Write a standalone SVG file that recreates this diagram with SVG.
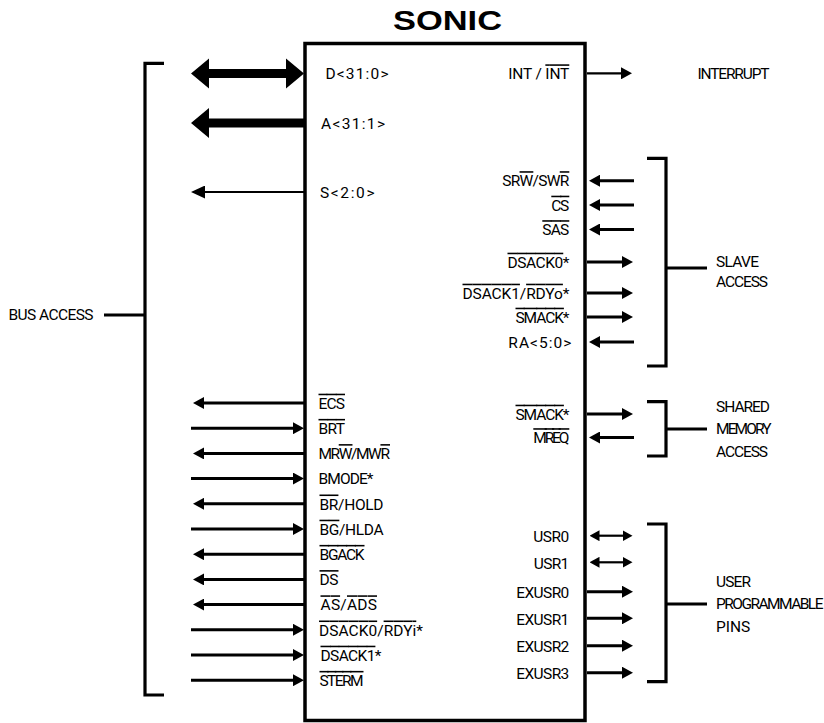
<svg xmlns="http://www.w3.org/2000/svg" width="824" height="723" viewBox="0 0 824 723">
<style>
text{font-family:Roboto,"Liberation Sans",sans-serif;font-size:15.5px;fill:#000}
.r{text-anchor:end}
.ttl{font-family:"Liberation Sans",Arial,sans-serif;font-weight:bold;font-size:28px}
.ov{text-decoration:overline;text-decoration-thickness:1.4px}
.w{stroke:#000;stroke-width:3;fill:none}
.n{stroke:#000;stroke-width:2.2;fill:none}
.br{stroke:#000;stroke-width:3.2;fill:none}
.ah{marker-end:url(#ah)}
.ah2{marker-start:url(#as);marker-end:url(#as)}
</style>
<defs>
<marker id="ah" viewBox="0 0 11 12" refX="0.5" refY="6" markerWidth="11" markerHeight="12" markerUnits="userSpaceOnUse" orient="auto"><path d="M0,0 L11,6 L0,12 Z" fill="#000"/></marker>
<marker id="as" viewBox="0 0 10 11" refX="0.5" refY="5.5" markerWidth="10" markerHeight="11" markerUnits="userSpaceOnUse" orient="auto-start-reverse"><path d="M0,0 L10,5.5 L0,11 Z" fill="#000"/></marker>
<marker id="am" viewBox="0 0 14 13" refX="0.5" refY="6.5" markerWidth="14" markerHeight="13" markerUnits="userSpaceOnUse" orient="auto"><path d="M0,0 L14,6.5 L0,13 Z" fill="#000"/></marker>
</defs>
<rect width="824" height="723" fill="#fff"/>

<g id="sonic">
<text class="ttl" x="393" y="30" textLength="109" lengthAdjust="spacingAndGlyphs">SONIC</text>
<rect x="305" y="43.5" width="280" height="677" fill="none" stroke="#000" stroke-width="3.5"/>
<text x="325.5" y="78.5" textLength="63">D&lt;31:0&gt;</text>
<text x="321" y="128.5" textLength="64">A&lt;31:1&gt;</text>
<text x="320" y="197.5" textLength="54.5">S&lt;2:0&gt;</text>
<text x="318.5" y="408.7" textLength="26.5"><tspan class="ov">ECS</tspan></text>
<text x="318.5" y="433.9" textLength="26.5"><tspan class="ov">BRT</tspan></text>
<text x="318.5" y="459.1" textLength="71.5">MR<tspan class="ov">W</tspan>/MW<tspan class="ov">R</tspan></text>
<text x="318.5" y="484.3" textLength="55">BMODE*</text>
<text x="319.5" y="509.5" textLength="64"><tspan class="ov">BR</tspan>/HOLD</text>
<text x="319.5" y="534.7" textLength="64"><tspan class="ov">BG</tspan>/HLDA</text>
<text x="319.5" y="559.9" textLength="45"><tspan class="ov">BGACK</tspan></text>
<text x="319.5" y="585.1" textLength="19"><tspan class="ov">DS</tspan></text>
<text x="320.5" y="610.3" textLength="56.5"><tspan class="ov">AS</tspan>/<tspan class="ov">ADS</tspan></text>
<text x="319" y="635.5" textLength="104"><tspan class="ov">DSACK0</tspan>/<tspan class="ov">RDYi</tspan>*</text>
<text x="320.5" y="660.7" textLength="61"><tspan class="ov">DSACK1</tspan>*</text>
<text x="319.5" y="685.9" textLength="44"><tspan class="ov">STERM</tspan></text>

<text class="r" x="569.3" y="79.3" textLength="61">INT / <tspan class="ov">INT</tspan></text>
<text class="r" x="569.3" y="186.2" textLength="67">SR<tspan class="ov">W</tspan>/SW<tspan class="ov">R</tspan></text>
<text class="r" x="569.3" y="210.7" textLength="18"><tspan class="ov">CS</tspan></text>
<text class="r" x="569.3" y="235.2" textLength="27"><tspan class="ov">SAS</tspan></text>
<text class="r" x="569.5" y="267.7" textLength="62"><tspan class="ov">DSACK0</tspan>*</text>
<text class="r" x="569.5" y="298.7" textLength="107"><tspan class="ov">DSACK1</tspan>/<tspan class="ov">RDYo</tspan>*</text>
<text class="r" x="569.5" y="322.7" textLength="54"><tspan class="ov">SMACK</tspan>*</text>
<text class="r" x="571.3" y="347.7" textLength="63">RA&lt;5:0&gt;</text>
<text class="r" x="569.5" y="419.7" textLength="54"><tspan class="ov">SMACK</tspan>*</text>
<text class="r" x="569.3" y="443.2" textLength="36"><tspan class="ov">MREQ</tspan></text>
<text class="r" x="569.3" y="542.2" textLength="36">USR0</text>
<text class="r" x="569.3" y="568.6" textLength="35.5">USR1</text>
<text class="r" x="569.3" y="598" textLength="53">EXUSR0</text>
<text class="r" x="569.3" y="624.6" textLength="53">EXUSR1</text>
<text class="r" x="569.3" y="652" textLength="53">EXUSR2</text>
<text class="r" x="569.3" y="679" textLength="53">EXUSR3</text>
</g>

<g id="bus-access">
<path class="br" d="M164,63.3 H145 V695 H164 M104,315 H145"/>
<text x="8.5" y="320" textLength="85">BUS ACCESS</text>
</g>
<g id="interrupt">
<text x="697.5" y="79.3" textLength="72">INTERRUPT</text>
</g>
<g id="slave-access">
<path class="br" d="M647,158.3 H666 V366 H647 M666,268 H707"/>
<text x="716" y="267.3" textLength="43">SLAVE</text>
<text x="716" y="287.3" textLength="52">ACCESS</text>
</g>
<g id="shared-memory-access">
<path class="br" d="M647,401.7 H666 V456 H647 M666,429 H707"/>
<text x="716" y="411.7" textLength="54">SHARED</text>
<text x="716" y="434" textLength="55.5">MEMORY</text>
<text x="716" y="456.7" textLength="52">ACCESS</text>
</g>
<g id="user-programmable-pins">
<path class="br" d="M647,524 H666 V681.7 H647 M666,604 H707"/>
<text x="716" y="586.7" textLength="35">USER</text>
<text x="716" y="609.3" textLength="107.5">PROGRAMMABLE</text>
<text x="716" y="632.3">PINS</text>
</g>

<g id="connectors">
<path d="M191,73.5 L209,58.5 L209,69 L286,69 L286,58.5 L304,73.5 L286,88.5 L286,78 L209,78 L209,88.5 Z" fill="#000"/>
<path d="M191,123 L209,108 L209,118.5 L305,118.5 L305,127.5 L209,127.5 L209,138 Z" fill="#000"/>
<line class="n" x1="305" y1="192" x2="204.5" y2="192" marker-end="url(#am)"/>
<line class="w ah" x1="305" y1="403" x2="203.5" y2="403"/>
<line class="w ah" x1="191" y1="428.2" x2="293.5" y2="428.2"/>
<line class="w ah" x1="305" y1="453.4" x2="203.5" y2="453.4"/>
<line class="w ah" x1="191" y1="478.6" x2="293.5" y2="478.6"/>
<line class="w ah" x1="305" y1="503.8" x2="203.5" y2="503.8"/>
<line class="w ah" x1="191" y1="529" x2="293.5" y2="529"/>
<line class="w ah" x1="305" y1="554.2" x2="203.5" y2="554.2"/>
<line class="w ah" x1="305" y1="579.4" x2="203.5" y2="579.4"/>
<line class="w ah" x1="305" y1="604.6" x2="203.5" y2="604.6"/>
<line class="w ah" x1="191" y1="629.8" x2="293.5" y2="629.8"/>
<line class="w ah" x1="191" y1="655" x2="293.5" y2="655"/>
<line class="w ah" x1="191" y1="680.2" x2="293.5" y2="680.2"/>

<line class="n ah" x1="587" y1="73.3" x2="621.5" y2="73.3"/>
<line class="w ah" x1="634" y1="180.7" x2="599.5" y2="180.7"/>
<line class="w ah" x1="634" y1="205" x2="599.5" y2="205"/>
<line class="w ah" x1="634" y1="229.5" x2="599.5" y2="229.5"/>
<line class="w ah" x1="587" y1="262" x2="622.5" y2="262"/>
<line class="w ah" x1="587" y1="293" x2="622.5" y2="293"/>
<line class="w ah" x1="587" y1="317" x2="622.5" y2="317"/>
<line class="w ah" x1="634" y1="342" x2="599.5" y2="342"/>
<line class="w ah" x1="587" y1="414" x2="622.5" y2="414"/>
<line class="w ah" x1="634" y1="437.5" x2="599.5" y2="437.5"/>
<line class="n ah2" x1="599" y1="535.7" x2="623" y2="535.7"/>
<line class="n ah2" x1="599" y1="562.3" x2="623" y2="562.3"/>
<line class="w ah" x1="587" y1="591.7" x2="622.5" y2="591.7"/>
<line class="w ah" x1="587" y1="618.3" x2="622.5" y2="618.3"/>
<line class="w ah" x1="587" y1="645.7" x2="622.5" y2="645.7"/>
<line class="w ah" x1="587" y1="672.7" x2="622.5" y2="672.7"/>
</g>
</svg>
